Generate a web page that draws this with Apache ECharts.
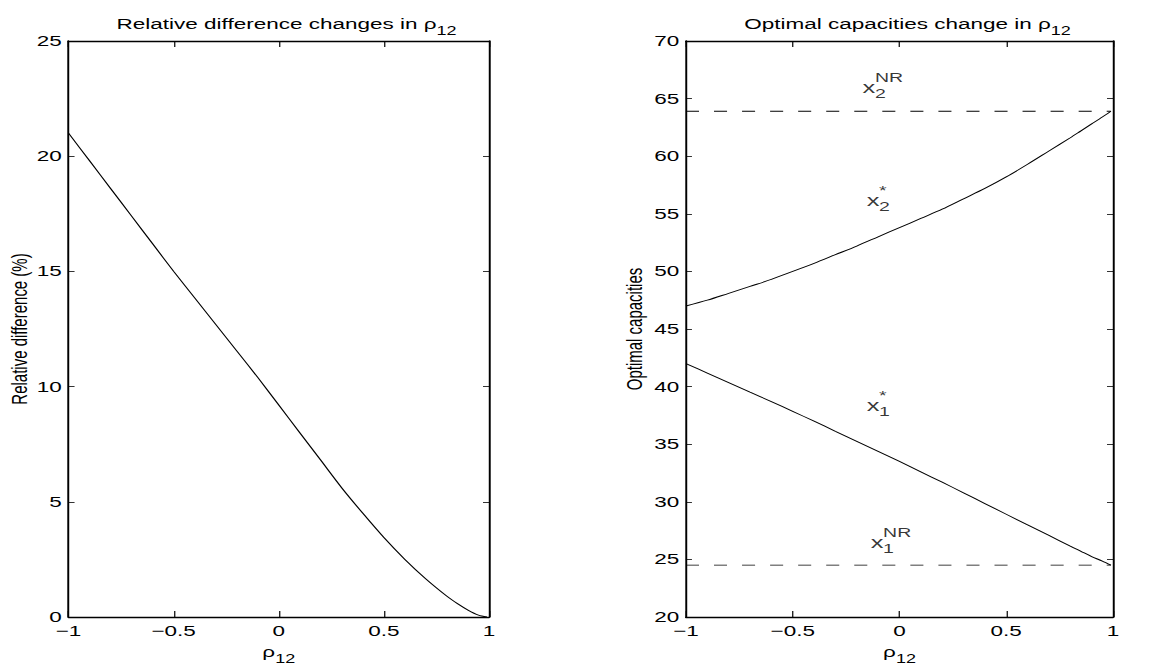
<!DOCTYPE html>
<html><head><meta charset="utf-8">
<script src="https://cdn.jsdelivr.net/npm/echarts@6/dist/echarts.min.js"></script>
<style>
html,body{margin:0;padding:0;background:#fff;overflow:hidden}
#wrap{width:1149px;height:670px;overflow:hidden;position:relative}
#chart{width:766px;height:670px;transform:scaleX(1.5);transform-origin:0 0}
</style></head><body><div id="wrap"><div id="chart"></div></div>
<script>
// ---- data ----
const rho = [-1, -0.9, -0.8, -0.7, -0.6, -0.5, -0.4, -0.3, -0.2, -0.1, 0, 0.1, 0.2, 0.3, 0.4, 0.5, 0.6, 0.7, 0.8, 0.85, 0.9, 0.95, 0.99];
const relDiff = [21.0, 19.8, 18.6, 17.4, 16.2, 15.0, 13.85, 12.7, 11.55, 10.4, 9.2, 8.0, 6.8, 5.6, 4.5, 3.45, 2.5, 1.65, 0.9, 0.58, 0.3, 0.08, 0.0];
const x2Star = [47.0, 47.5, 48.1, 48.7, 49.3, 50.0, 50.7, 51.45, 52.2, 53.0, 53.8, 54.6, 55.4, 56.3, 57.2, 58.2, 59.3, 60.45, 61.6, 62.2, 62.8, 63.4, 63.9];
const x1Star = [42.0, 41.18, 40.35, 39.52, 38.7, 37.85, 37.0, 36.12, 35.25, 34.38, 33.5, 32.6, 31.7, 30.78, 29.85, 28.92, 28.0, 27.08, 26.15, 25.7, 25.25, 24.85, 24.5];
const x2NR = 63.9;
const x1NR = 24.5;
const rhoRange = [-1, 0.99];
const xTickLabels = ['\u22121', '\u22120.5', '0', '0.5', '1'];
const leftYTickLabels = ['0', '5', '10', '15', '20', '25'];
const rightYTickLabels = ['20', '25', '30', '35', '40', '45', '50', '55', '60', '65', '70'];
const annotX = [-0.143, -0.124, -0.124, -0.105];
const annotY = [66.0, 56.2, 38.4, 26.5];
const annotSup = ['NR', '*', '*', 'NR'];
const annotSub = ['2', '2', '1', '1'];
const titles = ['Relative difference changes in \u03c1', 'Optimal capacities change in \u03c1'];
const titleSub = '12';
const yNames = ['Relative difference (%)', 'Optimal capacities'];

// ---- chart ----
const FONT = 'Liberation Sans, Arial, Helvetica, sans-serif';
const chart = echarts.init(document.getElementById('chart'), null, {renderer: 'svg'});
const zip = (xs, ys) => xs.map((x, i) => [x, ys[i]]);
const xTickFmt = v => xTickLabels[Math.round((v + 1) / 0.5)];
const subRich = {
  a: {fontSize: 15, fontFamily: FONT, color: '#000', fontWeight: 'normal', verticalAlign: 'top', padding: [0, 0, 6, 0]},
  b: {fontSize: 12, fontFamily: FONT, color: '#000', fontWeight: 'normal', verticalAlign: 'top', padding: [9, 0, 0, 0]}
};

const grids = [
  {left: 45.7, top: 41, width: 280.3, height: 580},
  {left: 457.3, top: 41, width: 284.7, height: 580}
];

function xAxes(gi) {
  return [
    {gridIndex: gi, type: 'value', min: -1, max: 1, interval: 0.5, position: 'bottom',
     axisLine: {show: true, onZero: false, lineStyle: {color: '#000', width: 1.3}},
     axisTick: {show: true, inside: true, length: 6, lineStyle: {color: '#000', width: 0.8}},
     axisLabel: {show: true, margin: 6, color: '#000', fontSize: 15, fontFamily: FONT, formatter: xTickFmt},
     splitLine: {show: false},
     name: '{a|\u03c1}{b|' + titleSub + '}', nameLocation: 'middle', nameGap: 27,
     nameTextStyle: {color: '#000', fontFamily: FONT, rich: subRich}},
    {gridIndex: gi, type: 'value', min: -1, max: 1, interval: 0.5, position: 'top',
     axisLine: {show: true, onZero: false, lineStyle: {color: '#000', width: 1.3}},
     axisTick: {show: true, inside: true, length: 6, lineStyle: {color: '#000', width: 0.8}},
     axisLabel: {show: false}, splitLine: {show: false}}
  ];
}
function yAxes(gi, min, max, labels, name, gap) {
  const fmt = v => labels[Math.round((v - min) / 5)];
  return [
    {gridIndex: gi, type: 'value', min: min, max: max, interval: 5, position: 'left',
     axisLine: {show: true, onZero: false, lineStyle: {color: '#000', width: 1.3}},
     axisTick: {show: true, inside: true, length: 4, lineStyle: {color: '#000', width: 0.8}},
     axisLabel: {show: true, margin: 4.5, color: '#000', fontSize: 15, fontFamily: FONT, formatter: fmt},
     splitLine: {show: false},
     name: name, nameLocation: 'middle', nameGap: gap,
     nameTextStyle: {color: '#000', fontSize: 15, fontFamily: FONT}},
    {gridIndex: gi, type: 'value', min: min, max: max, interval: 5, position: 'right',
     axisLine: {show: true, onZero: false, lineStyle: {color: '#000', width: 1.3}},
     axisTick: {show: true, inside: true, length: 4, lineStyle: {color: '#000', width: 0.8}},
     axisLabel: {show: false}, splitLine: {show: false}}
  ];
}

const lineBase = {type: 'line', showSymbol: false, symbol: 'none', silent: true, animation: false};
const annotPts = annotX.map((x, i) => [x, annotY[i]]);
const annotBase = {type: 'scatter', xAxisIndex: 2, yAxisIndex: 2, symbolSize: 0, silent: true, animation: false, data: annotPts};
const annotLabel = {show: true, position: 'inside', color: '#000', fontFamily: FONT, textBorderWidth: 0, textBorderColor: 'transparent', textShadowBlur: 0};

const option = {
  animation: false,
  backgroundColor: '#fff',
  title: [
    {text: '{a|' + titles[0] + '}{b|' + titleSub + '}', left: 186, top: 11, textAlign: 'center',
     textStyle: {fontWeight: 'normal', rich: subRich}},
    {text: '{a|' + titles[1] + '}{b|' + titleSub + '}', left: 600, top: 11, textAlign: 'center',
     textStyle: {fontWeight: 'normal', rich: subRich}}
  ],
  grid: grids,
  xAxis: [...xAxes(0), ...xAxes(1)],
  yAxis: [...yAxes(0, 0, 25, leftYTickLabels, yNames[0], 25), ...yAxes(1, 20, 70, rightYTickLabels, yNames[1], 27)],
  series: [
    {...lineBase, name: 'relDiff', xAxisIndex: 0, yAxisIndex: 0, smooth: 0.3, data: zip(rho, relDiff), lineStyle: {color: '#000', width: 0.9}},
    {...lineBase, name: 'x2Star', xAxisIndex: 2, yAxisIndex: 2, smooth: 0.3, data: zip(rho, x2Star), lineStyle: {color: '#000', width: 0.9}},
    {...lineBase, name: 'x1Star', xAxisIndex: 2, yAxisIndex: 2, smooth: 0.3, data: zip(rho, x1Star), lineStyle: {color: '#000', width: 0.9}},
    {...lineBase, name: 'x2NR', xAxisIndex: 2, yAxisIndex: 2, data: rhoRange.map(x => [x, x2NR]), lineStyle: {color: '#000', width: 0.9, type: [8.7, 10]}},
    {...lineBase, name: 'x1NR', xAxisIndex: 2, yAxisIndex: 2, data: rhoRange.map(x => [x, x1NR]), lineStyle: {color: '#000', width: 0.9, type: [8.7, 10]}},
    {...annotBase, name: 'annotMain', label: {...annotLabel, formatter: 'x', fontSize: 17, align: 'center', verticalAlign: 'middle'}},
    {...annotBase, name: 'annotSup', label: {...annotLabel, formatter: p => annotSup[p.dataIndex], fontSize: 13, align: 'left', verticalAlign: 'middle', offset: [4, -9]}},
    {...annotBase, name: 'annotSub', label: {...annotLabel, formatter: p => annotSub[p.dataIndex], fontSize: 13, align: 'left', verticalAlign: 'middle', offset: [4, 7]}}
  ]
};
chart.setOption(option);
</script></body></html>
